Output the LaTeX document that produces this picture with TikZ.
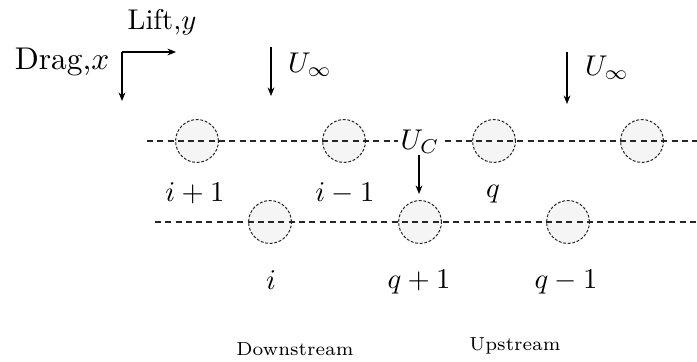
\documentclass[tikz,border=0pt]{standalone}
\usetikzlibrary{arrows.meta}
\begin{document}
\begin{tikzpicture}[x=0.35pt,y=-0.35pt,
  cyl/.style={circle,draw=black!85,dash pattern=on 1pt off 0.6pt,line width=0.35pt,fill=black!4,minimum size=15pt,inner sep=0pt},
  rowline/.style={dash pattern=on 2.1pt off 1.5pt,line width=0.4pt,draw=black!85},
  arr/.style={-{Stealth[length=3pt,width=2.4pt]},line width=0.4pt},
  lbl/.style={inner sep=0pt},
  small/.style={inner sep=0pt,font=\fontsize{6.6}{8}\selectfont}]
\useasboundingbox (0,0) rectangle (697,361);
% cylinders
\node[cyl] (t1) at (197,141) {};
\node[cyl] (t2) at (344,141) {};
\node[cyl] (t3) at (494,141) {};
\node[cyl] (t4) at (642,141) {};
\node[cyl] (b1) at (270,222) {};
\node[cyl] (b2) at (420,222) {};
\node[cyl] (b3) at (568,222) {};
% row lines
\coordinate (tl) at (147,141); \coordinate (tr) at (697,141);
\coordinate (bl) at (155,222); \coordinate (br) at (697,222);
\draw[rowline] (tl) -- (tr);
\draw[rowline] (bl) -- (br);
% U_C
\node[lbl,fill=white,inner xsep=1pt] (uc) at (420,142) {$U_C$};
\coordinate (ucs) at (419,155); \coordinate (uce) at (419,194);
\draw[arr] (ucs) -- (uce);
% labels
\node[lbl] (l1) at (195,193) {$i+1$};
\node[lbl] (l2) at (345,193) {$i-1$};
\node[lbl] (l3) at (493,194) {$q$};
\node[lbl] (l4) at (271,280) {$i$};
\node[lbl] (l5) at (419,282) {$q+1$};
\node[lbl] (l6) at (566,282) {$q-1$};
\node[small] (ds) at (295,349) {Downstream};
\node[small] (us) at (515,346) {Upstream};
% axes
\coordinate (o) at (122,52); \coordinate (ox) at (176,52); \coordinate (oy) at (122,101);
\draw[arr] (o) -- (ox);
\draw[arr] (o) -- (oy);
\node[lbl] (lift) at (162,22) {Lift,$y$};
\node[lbl,scale=1.1] (drag) at (62,62) {Drag,$x$};
% free stream
\coordinate (u1s) at (271,47); \coordinate (u1e) at (271,96);
\draw[arr] (u1s) -- (u1e);
\node[lbl] (u1) at (310,65) {$U_\infty$};
\coordinate (u2s) at (567,52); \coordinate (u2e) at (567,104);
\draw[arr] (u2s) -- (u2e);
\node[lbl] (u2) at (607,68) {$U_\infty$};
\end{tikzpicture}
\end{document}
